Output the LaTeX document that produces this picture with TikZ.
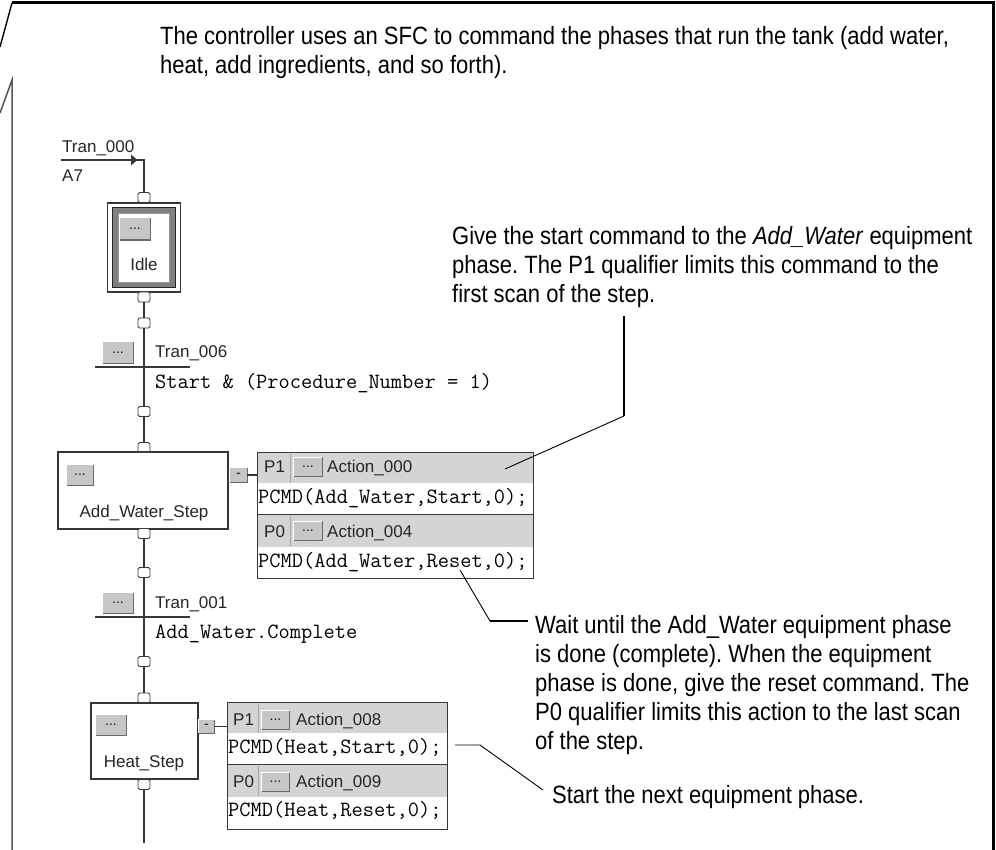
\documentclass[tikz,border=0pt]{standalone}
\usepackage{fontspec}
\frenchspacing
\newfontfamily\annfont[FakeStretch=0.88]{Liberation Sans}
\newfontfamily\sfcfont{Liberation Sans}
\definecolor{hdrgray}{RGB}{212,212,212}
\definecolor{btngray}{RGB}{198,198,198}
\definecolor{btndark}{RGB}{105,105,105}
\definecolor{boxline}{RGB}{55,55,55}
\definecolor{framegray}{RGB}{85,85,85}
\tikzset{
  ann/.style={font=\annfont\fontsize{25}{28.8}\selectfont, inner sep=0, align=left, anchor=base west},
  sfctxt/.style={font=\sfcfont\fontsize{17}{18}\selectfont, inner sep=0, text=black!85},
  monotxt/.style={font=\ttfamily\fontsize{21.8}{24}\selectfont, inner sep=0, anchor=base west},
  conn/.style={draw=boxline, fill=white, line width=0.9, minimum width=12, minimum height=10, inner sep=0, rounded corners=1.5},
  stepbox/.style={draw=boxline, fill=white, line width=1.1, inner sep=0},
  sfcline/.style={draw=boxline, line width=1.1},
  btn/.style={fill=btngray, inner sep=0, font=\sfcfont\fontsize{14}{14}\selectfont, text=black!90},
  hdr/.style={fill=hdrgray, inner sep=0},
  bodyrow/.style={fill=white, inner sep=0},
  leader/.style={line width=0.9},
  leaderthick/.style={line width=1.8},
}
\newcommand\sfcbtn[5]{%
  \node[btn, minimum width=#3, minimum height=#4] (#1) at (#2) {#5};
  \draw[white, line width=1.2] (#1.south west) |- (#1.north east);
  \draw[btndark, line width=1.4] (#1.south west) -| (#1.north east);
}
\begin{document}
\begin{tikzpicture}[x=1pt,y=-1pt]
\useasboundingbox (0,0) rectangle (996,850);
\fill[white] (0,0) rectangle (996,850);

% ---- frame ----
\draw[line width=1.4] (0,47) -- (12,3);
\draw[line width=3] (12,3) -- (993,3) -- (993,852);
\draw[framegray, line width=1.5] (0,113) -- (12,80) -- (12,852);

% ---- annotations (anchor = baseline of the last line) ----
\node[ann] (annA) at (160,73.5) {The controller uses an SFC to command the phases that run the tank (add water,\\heat, add ingredients, and so forth).};
\node[ann] (annB) at (452,302.5) {Give the start command to the \textit{Add\_Water} equipment\\phase. The P1 qualifier limits this command to the\\first scan of the step.};
\node[ann] (annC) at (535,749) {Wait until the Add\_Water equipment phase\\is done (complete). When the equipment\\phase is done, give the reset command. The\\P0 qualifier limits this action to the last scan\\of the step.};
\node[ann] (annD) at (552,803) {Start the next equipment phase.};

% ---- initial transition ----
\coordinate (t0start) at (61,160);
\coordinate (t0corner) at (144,160);
\node[conn] (c0) at (144,197.5) {};
\draw[sfcline] (t0start) -- (t0corner) -- (c0.north);
\fill[boxline] (131,154.5) -- (137.5,160) -- (131,165.5) -- cycle;
\node[sfctxt, anchor=base west] (t0name) at (62,153) {Tran\_000};
\node[sfctxt, anchor=base west] (t0cond) at (62,182) {A7};

% ---- Idle step ----
\node[stepbox, minimum width=73, minimum height=89] (idle) at (144,247.5) {};
\node[draw=black!85, fill=black!50, line width=0.8, minimum width=63, minimum height=80, inner sep=0] (idleframe) at (144,247.5) {};
\node[draw=black!40, fill=white, line width=0.6, minimum width=51, minimum height=69, inner sep=0] (idleinner) at (144,247.5) {};
\sfcbtn{idlebtn}{135,229}{30}{22}{...}
\node[sfctxt, anchor=base] (idlename) at (144,271) {Idle};
\node[conn] (c1) at (144,297) {};

% ---- Tran_006 ----
\node[conn] (c2) at (144,323) {};
\coordinate (tr1l) at (95,367);
\coordinate (tr1r) at (190,367);
\draw[sfcline] (tr1l) -- (tr1r);
\sfcbtn{tr1btn}{118,352.5}{30}{21}{...}
\node[sfctxt, anchor=base west] (tr1name) at (155,357) {Tran\_006};
\node[monotxt] (tr1cond) at (155,388) {Start \& (Procedure\_Number = 1)};
\node[conn] (c3) at (144,411.5) {};
\draw[sfcline] (c1.south) -- (c2.north);
\draw[sfcline] (c2.south) -- (c3.north);

% ---- Add_Water_Step ----
\node[conn] (c4) at (144,447.5) {};
\node[stepbox, minimum width=170, minimum height=77] (aws) at (143,490.5) {};
\sfcbtn{awsbtn}{80,475}{26}{20}{...}
\node[sfctxt, anchor=base] (awsname) at (144,517) {Add\_Water\_Step};
\node[conn] (c5) at (144,533.5) {};
\draw[sfcline] (c3.south) -- (c4.north);
\sfcbtn{awsmin}{238.5,475}{17}{14}{-}

% action box 1
\node[hdr, minimum width=275, minimum height=30] (a1h1) at (395.5,468) {};
\node[bodyrow, minimum width=275, minimum height=32] (a1b1) at (395.5,499) {};
\node[hdr, minimum width=275, minimum height=32] (a1h2) at (395.5,531) {};
\node[bodyrow, minimum width=275, minimum height=31] (a1b2) at (395.5,562.5) {};
\draw[boxline, line width=1.2] (a1h1.north west) rectangle (a1b2.south east);
\draw[boxline, line width=1.2] (a1h2.north west) -- (a1h2.north east);
\draw[black!35] (290,454) -- (290,483);
\draw[black!35] (290,516) -- (290,546);
\node[sfctxt, anchor=base west] (a1q1) at (264,472) {P1};
\sfcbtn{a1btn1}{308,467}{28}{19}{...}
\node[sfctxt, anchor=base west] (a1n1) at (327,472) {Action\_000};
\node[monotxt] (a1c1) at (258,503) {PCMD(Add\_Water,Start,0);};
\node[sfctxt, anchor=base west] (a1q2) at (264,537) {P0};
\sfcbtn{a1btn2}{308,531}{28}{19}{...}
\node[sfctxt, anchor=base west] (a1n2) at (327,537) {Action\_004};
\node[monotxt] (a1c2) at (258,567) {PCMD(Add\_Water,Reset,0);};
\draw[sfcline] (awsmin.east) -- (awsmin.east -| a1h1.west);

% ---- Tran_001 ----
\node[conn] (c6) at (144,572.5) {};
\draw[sfcline] (c5.south) -- (c6.north);
\coordinate (tr2l) at (95,617);
\coordinate (tr2r) at (190,617);
\draw[sfcline] (tr2l) -- (tr2r);
\sfcbtn{tr2btn}{118,603}{30}{20}{...}
\node[sfctxt, anchor=base west] (tr2name) at (155,608) {Tran\_001};
\node[monotxt] (tr2cond) at (155,638) {Add\_Water.Complete};
\node[conn] (c7) at (144,661.5) {};
\draw[sfcline] (c6.south) -- (c7.north);

% ---- Heat_Step ----
\node[conn] (c8) at (144,698) {};
\draw[sfcline] (c7.south) -- (c8.north);
\node[stepbox, minimum width=107, minimum height=76] (heat) at (144.5,741) {};
\sfcbtn{heatbtn}{111,725}{30}{20}{...}
\node[sfctxt, anchor=base] (heatname) at (144,767) {Heat\_Step};
\node[conn] (c9) at (144,784.5) {};
\coordinate (sfcend) at (144,843);
\draw[sfcline] (c9.south) -- (sfcend);
\sfcbtn{heatmin}{206.5,726.5}{15}{13}{-}

% action box 2
\node[hdr, minimum width=219, minimum height=30] (a2h1) at (337.5,718) {};
\node[bodyrow, minimum width=219, minimum height=32] (a2b1) at (337.5,749) {};
\node[hdr, minimum width=219, minimum height=32] (a2h2) at (337.5,781) {};
\node[bodyrow, minimum width=219, minimum height=32] (a2b2) at (337.5,813) {};
\draw[boxline, line width=1.2] (a2h1.north west) rectangle (a2b2.south east);
\draw[boxline, line width=1.2] (a2h2.north west) -- (a2h2.north east);
\draw[black!35] (258,704) -- (258,733);
\draw[black!35] (258,766) -- (258,796);
\node[sfctxt, anchor=base west] (a2q1) at (233,725) {P1};
\sfcbtn{a2btn1}{275.5,720}{27}{18}{...}
\node[sfctxt, anchor=base west] (a2n1) at (296,725) {Action\_008};
\node[monotxt] (a2c1) at (228,753) {PCMD(Heat,Start,0);};
\node[sfctxt, anchor=base west] (a2q2) at (233,787) {P0};
\sfcbtn{a2btn2}{275.5,782}{27}{18}{...}
\node[sfctxt, anchor=base west] (a2n2) at (296,787) {Action\_009};
\node[monotxt] (a2c2) at (228,816) {PCMD(Heat,Reset,0);};
\draw[sfcline] (heatmin.east) -- (heatmin.east -| a2h1.west);

% ---- leaders ----
\coordinate (lbTop) at (624,316);
\coordinate (lbKnee) at (624,416);
\coordinate (lbEnd) at (505,469);
\draw[leaderthick] (lbTop) -- (lbKnee);
\draw[leader] (lbKnee) -- (lbEnd);

\coordinate (lcEnd) at (460,570);
\coordinate (lcKnee) at (490,621);
\coordinate (lcStart) at (528,621);
\draw[leader] (lcEnd) -- (lcKnee);
\draw[leaderthick] (lcKnee) -- (lcStart);

\coordinate (ldStart) at (455,745);
\coordinate (ldKnee) at (480,745);
\coordinate (ldEnd) at (543,790);
\draw[leader] (ldStart) -- (ldKnee) -- (ldEnd);
\end{tikzpicture}
\end{document}
